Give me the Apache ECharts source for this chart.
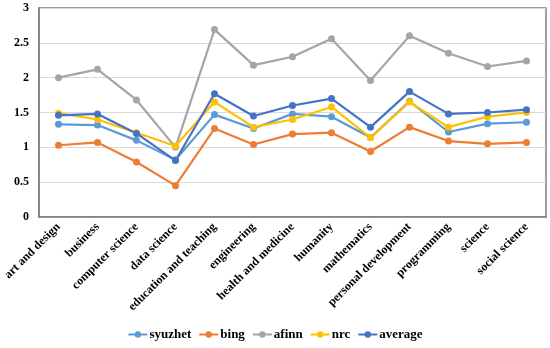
<!DOCTYPE html>
<html><head><meta charset="utf-8">
<script src="https://cdn.jsdelivr.net/npm/echarts@6/dist/echarts.min.js"></script>
<style>html,body{margin:0;padding:0;background:#fff}#c{width:550px;height:348px}</style>
</head><body><div id="c"></div>
<script>
const categories = ["art and design","business","computer science","data science","education and teaching","engineering","health and medicine","humanity","mathematics","personal development","programming","science","social science"];
const syuzhet = [1.33,1.32,1.10,0.82,1.47,1.27,1.48,1.44,1.14,1.66,1.22,1.34,1.36];
const bing    = [1.03,1.07,0.79,0.45,1.27,1.04,1.19,1.21,0.94,1.29,1.09,1.05,1.07];
const afinn   = [2.00,2.12,1.68,1.00,2.69,2.18,2.30,2.56,1.96,2.60,2.35,2.16,2.24];
const nrc     = [1.49,1.40,1.21,1.02,1.65,1.29,1.40,1.58,1.14,1.65,1.29,1.44,1.50];
const average = [1.46,1.48,1.20,0.81,1.77,1.45,1.60,1.70,1.29,1.80,1.48,1.50,1.54];
const seriesNames = ["syuzhet","bing","afinn","nrc","average"];
const seriesData = [syuzhet,bing,afinn,nrc,average];
const colors = ["#5B9BD5","#ED7D31","#A5A5A5","#FFC000","#4472C4"];
const yTicks = [0,0.5,1,1.5,2,2.5,3];

const font = {fontFamily:"Liberation Serif", fontWeight:"bold", fontSize:12, color:"#000"};
const chart = echarts.init(document.getElementById('c'));
chart.setOption({
  animation:false,
  color:colors,
  grid:{left:39,right:4,top:8,bottom:131,show:true,borderColor:'#7f7f7f',borderWidth:1.5,backgroundColor:'transparent'},
  legend:{bottom:2,left:'center',itemWidth:19,itemHeight:8,itemGap:7,
    textStyle:Object.assign({},font,{fontSize:13,padding:[0,0,0,-3]}),
    data:seriesNames},
  xAxis:{type:'category',data:categories,boundaryGap:true,
    axisLine:{lineStyle:{color:'#7f7f7f',width:1.5}},axisTick:{show:false},
    axisLabel:Object.assign({},font,{rotate:45,interval:0,margin:8})},
  yAxis:{type:'value',min:0,max:3,interval:0.5,
    axisLine:{show:true,lineStyle:{color:'#7f7f7f',width:1.5}},axisTick:{show:false},
    splitLine:{lineStyle:{color:'#d9d9d9',width:1}},
    axisLabel:Object.assign({},font,{margin:10,formatter:v=>String(v)})},
  series:seriesNames.map((n,i)=>({name:n,type:'line',data:seriesData[i],symbol:'circle',symbolSize:7,
    lineStyle:{width:2.2,color:colors[i]},itemStyle:{color:colors[i]}}))
});
</script></body></html>
